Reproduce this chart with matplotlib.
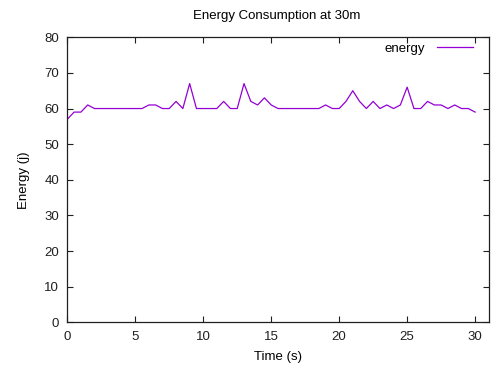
import matplotlib
matplotlib.use("Agg")
import matplotlib.pyplot as plt

plt.rcParams['font.family'] = ['Liberation Sans', 'DejaVu Sans']

# time in seconds, sampled every half second
time_s = [0, 0.5, 1, 1.5, 2, 2.5, 3, 3.5, 4, 4.5, 5, 5.5,
          6, 6.5, 7, 7.5, 8, 8.5, 9, 9.5, 10, 10.5, 11, 11.5,
          12, 12.5, 13, 13.5, 14, 14.5, 15, 15.5, 16, 16.5, 17, 17.5,
          18, 18.5, 19, 19.5, 20, 20.5, 21, 21.5, 22, 22.5, 23, 23.5,
          24, 24.5, 25, 25.5, 26, 26.5, 27, 27.5, 28, 28.5, 29, 29.5, 30]
energy = [57, 59, 59, 61, 60, 60, 60, 60, 60, 60, 60, 60,
          61, 61, 60, 60, 62, 60, 67, 60, 60, 60, 60, 62,
          60, 60, 67, 62, 61, 63, 61, 60, 60, 60, 60, 60,
          60, 60, 61, 60, 60, 62, 65, 62, 60, 62, 60, 61,
          60, 61, 66, 60, 60, 62, 61, 61, 60, 61, 60, 60, 59]

x_ticks = [0, 5, 10, 15, 20, 25, 30]
y_ticks = [0, 10, 20, 30, 40, 50, 60, 70, 80]

fig = plt.figure(figsize=(4.96, 3.71), dpi=100)
ax = fig.add_axes([0.1357, 0.1313, 0.8496, 0.7682])

ax.plot(time_s, energy, color='#9400D3', lw=0.9, label='energy')

ax.set_xlim(0, 31)
ax.set_ylim(0, 80)
ax.set_xticks(x_ticks)
ax.set_yticks(y_ticks)
ax.tick_params(direction='in', length=4, width=0.8, top=True, right=True,
               labelsize=9.5, colors='#202020', pad=6)
for s in ax.spines.values():
    s.set_linewidth(0.9)
    s.set_color('#202020')

ax.set_xlabel('Time (s)', fontsize=9.5, labelpad=6)
ax.set_ylabel('Energy (j)', fontsize=9.5, labelpad=10)
fig.suptitle('Energy Consumption at 30m', fontsize=9.5, x=0.558, y=0.972)

ax.legend(loc='upper right', bbox_to_anchor=(0.975, 1.0), borderaxespad=0,
          frameon=False, markerfirst=False, fontsize=9.5,
          handlelength=2.7, handletextpad=0.9)

fig.savefig('out.png', dpi=100)
